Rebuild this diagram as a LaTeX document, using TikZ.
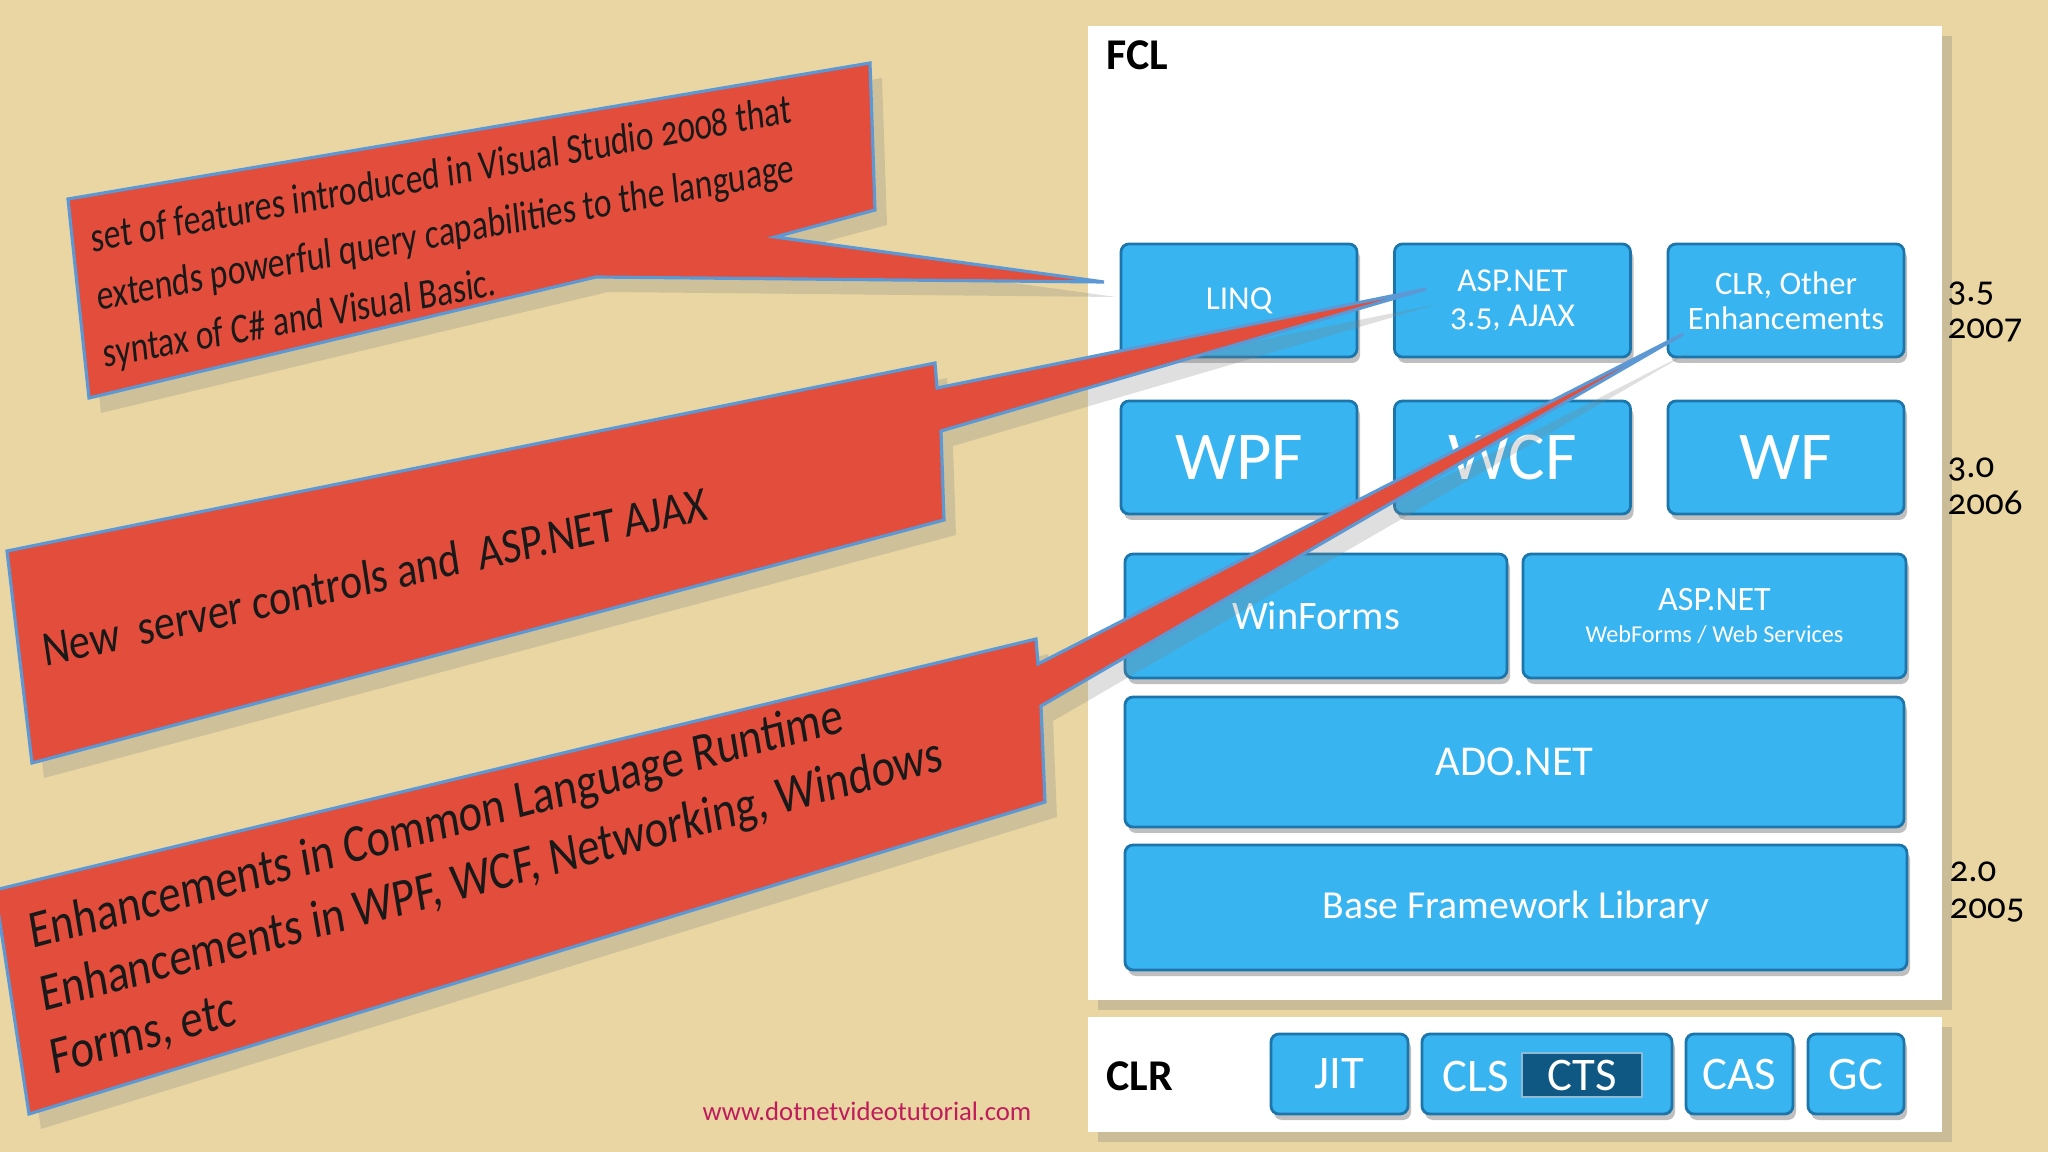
\documentclass[tikz,border=0pt]{standalone}
\usepackage{fontspec}
\setmainfont{Carlito}[Numbers=OldStyle]
\usetikzlibrary{shadows}

\definecolor{paper}{RGB}{233,214,162}
\definecolor{boxblue}{RGB}{56,181,240}
\definecolor{boxedge}{RGB}{28,118,172}
\definecolor{ctsblue}{RGB}{16,88,132}
\definecolor{callred}{RGB}{226,77,60}
\definecolor{calledge}{RGB}{92,152,212}
\definecolor{urlred}{RGB}{192,28,92}

\newcommand{\fs}[2]{\fontsize{#1}{#2}\selectfont}

\tikzset{
  panel/.style={fill=white, inner sep=0pt, outer sep=0pt,
    drop shadow={shadow xshift=1mm, shadow yshift=-1mm, opacity=0.3}},
  blk/.style={draw=boxedge, fill=boxblue, line width=0.8pt,
    rounded corners=0.8mm, text=white, align=center,
    inner sep=0pt, outer sep=0pt,
    drop shadow={shadow xshift=0.3mm, shadow yshift=-0.6mm, opacity=0.5}},
  tilebox/.style={blk, minimum width=2.36cm, minimum height=1.13cm},
  rtbox/.style={blk, minimum height=0.80cm, font=\fs{13.3}{14}},
  ctsbox/.style={draw=boxedge!50, fill=ctsblue, line width=0.8pt,
    text=white, inner sep=0pt, minimum width=1.20cm,
    minimum height=0.44cm, font=\fs{13.3}{14}},
  head/.style={anchor=west, inner sep=0pt, font=\bfseries\fs{12.5}{14}},
  ver/.style={anchor=west, align=left, inner sep=0pt, font=\fs{10.5}{10.5}},
  bubble/.style={fill=callred, draw=calledge, line width=0.9pt,
    drop shadow={shadow xshift=1.2mm, shadow yshift=-1.5mm, opacity=0.25}},
  note/.style={anchor=west, align=left, inner sep=0pt, text=black!90}
}

\begin{document}
\begin{tikzpicture}[x=1cm, y=-1cm]
  \useasboundingbox (0,0) rectangle (20.48,11.52);
  \fill[paper] (0,0) rectangle (20.48,11.52);

  % FCL and CLR panels
  \node[panel, minimum width=8.54cm, minimum height=9.74cm] (fcl) at (15.15,5.13) {};
  \node[panel, minimum width=8.54cm, minimum height=1.15cm] (clr) at (15.15,10.745) {};
  \node[head] (fcllbl) at (11.06,0.55) {FCL};
  \node[head] (clrlbl) at (11.06,10.76) {CLR};

  % 3.5
  \node[tilebox, font=\fs{9.5}{10}] (linq) at (12.39,3.005) {LINQ};
  \node[tilebox, font=\fs{9.5}{10}] (asp35) at (15.125,3.005) {ASP.NET\\3.5, AJAX};
  \node[tilebox, font=\fs{9.3}{10}] (clr35) at (17.86,3.005) {CLR, Other\\Enhancements};
  % 3.0
  \node[tilebox, font=\fs{19.5}{20}] (wpf) at (12.39,4.575) {WPF};
  \node[tilebox, font=\fs{19.5}{20}] (wcf) at (15.125,4.575) {WCF};
  \node[tilebox, font=\fs{19.5}{20}] (wf) at (17.86,4.575) {WF};
  % 2.0
  \node[blk, minimum width=3.82cm, minimum height=1.24cm, font=\fs{11.5}{13}] (winforms) at (13.16,6.16) {WinForms};
  \node[blk, minimum width=3.83cm, minimum height=1.24cm, font=\fs{9.7}{11}] (aspweb) at (17.145,6.16) {ASP.NET\\[-2pt]{\fs{6.9}{8}WebForms / Web Services}};
  \node[blk, minimum width=7.79cm, minimum height=1.30cm, font=\fs{12.1}{14}] (ado) at (15.145,7.62) {ADO.NET};
  \node[blk, minimum width=7.82cm, minimum height=1.25cm, font=\fs{11.3}{13}] (bfl) at (15.16,9.075) {Base Framework Library};

  % runtime
  \node[rtbox, minimum width=1.37cm] (jit) at (13.395,10.74) {JIT};
  \node[rtbox, minimum width=2.50cm] (cls) at (15.47,10.74) {};
  \node[text=white, font=\fs{13.3}{14}] (clstxt) at (14.76,10.76) {CLS};
  \node[ctsbox] (cts) at (15.82,10.75) {CTS};
  \node[rtbox, minimum width=1.07cm] (cas) at (17.395,10.74) {CAS};
  \node[rtbox, minimum width=0.96cm] (gc) at (18.56,10.74) {GC};

  % versions
  \node[ver] (v35) at (19.47,3.12) {3.5\\2007};
  \node[ver] (v30) at (19.47,4.86) {3.0\\2006};
  \node[ver] (v20) at (19.49,8.92) {2.0\\2005};

  \node[font=\fs{7.6}{9}, text=urlred] (url) at (8.67,11.11) {www.dotnetvideotutorial.com};

  % callouts
  \coordinate (tip1) at (11.04,2.82);
  \coordinate (tip2) at (14.26,2.89);
  \coordinate (tip3) at (16.83,3.34);
  \path[bubble] (0.68,1.99) -- (8.70,0.63) -- (8.75,2.10) -- (7.75,2.37) -- (tip1)
    -- (5.96,2.77) -- (0.89,3.98) -- cycle;
  \path[bubble] (0.07,5.51) -- (9.35,3.63) -- (9.37,3.88) -- (tip2)
    -- (9.41,4.31) -- (9.44,5.20) -- (0.32,7.63) -- cycle;
  \path[bubble] (-0.05,8.90) -- (10.36,6.39) -- (10.38,6.64) -- (tip3)
    -- (10.41,7.06) -- (10.45,8.02) -- (0.29,11.14) -- cycle;

  \node[note, rotate=10.5, xscale=0.80, xslant=0.1, transform shape, font=\fs{12}{16.5}] (linqnote) at (0.97,2.99)
    {set of features introduced in Visual Studio 2008 that\\
     extends powerful query capabilities to the language\\
     syntax of C\# and Visual Basic.};
  \node[note, rotate=12.5, xscale=0.86, xslant=0.08, transform shape, font=\fs{14}{16}] (ajaxnote) at (0.42,6.50)
    {New\ \ server controls and\ \ ASP.NET AJAX};
  \node[note, rotate=15, xscale=0.855, xslant=0.11, transform shape, font=\fs{15}{18}] (clrnote) at (0.40,9.97)
    {Enhancements in Common Language Runtime\\
     Enhancements in WPF, WCF, Networking, Windows\\
     Forms, etc};
\end{tikzpicture}
\end{document}
